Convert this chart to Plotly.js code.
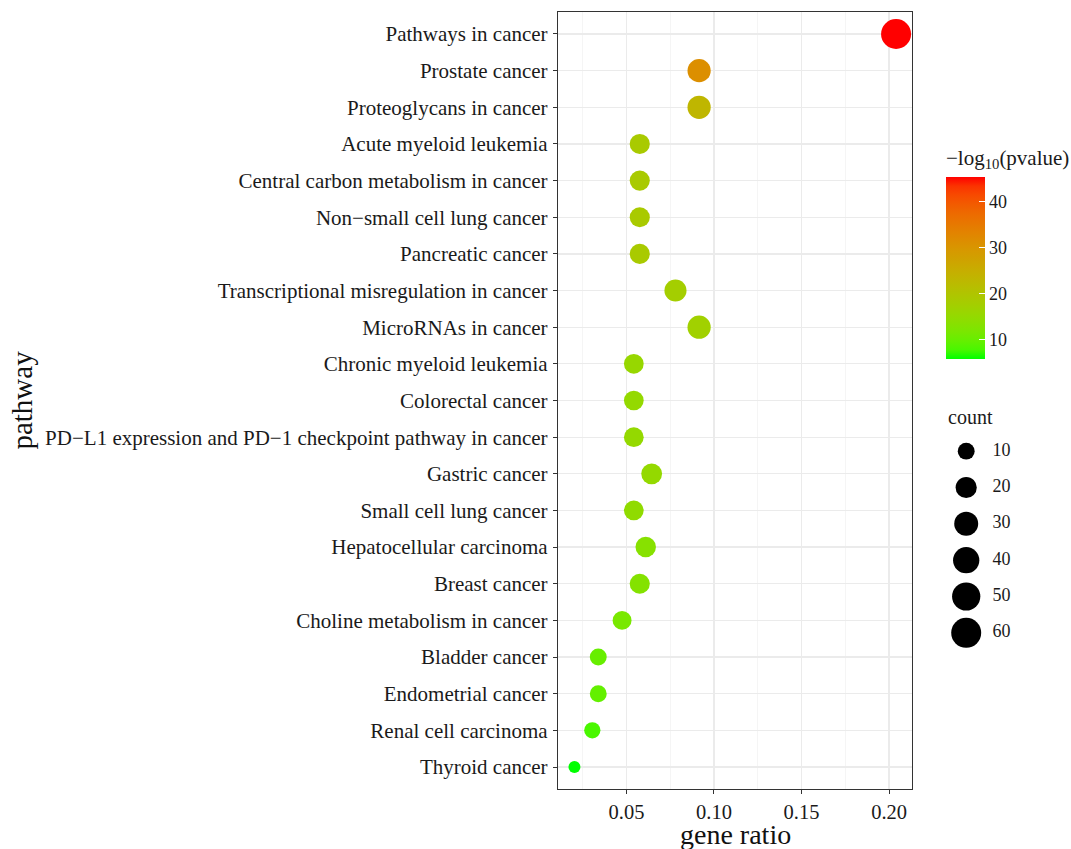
<!DOCTYPE html>
<html>
<head>
<meta charset="utf-8">
<script src="https://cdn.plot.ly/plotly-3.0.1.min.js"></script>
<style>
  html, body { margin: 0; padding: 0; background: #ffffff; }
  #chart { width: 1071px; height: 849px; }
</style>
</head>
<body>
<div id="chart"></div>
<script>
// ---- data ----
var pathways = [
  "Pathways in cancer",
  "Prostate cancer",
  "Proteoglycans in cancer",
  "Acute myeloid leukemia",
  "Central carbon metabolism in cancer",
  "Non\u2212small cell lung cancer",
  "Pancreatic cancer",
  "Transcriptional misregulation in cancer",
  "MicroRNAs in cancer",
  "Chronic myeloid leukemia",
  "Colorectal cancer",
  "PD\u2212L1 expression and PD\u22121 checkpoint pathway in cancer",
  "Gastric cancer",
  "Small cell lung cancer",
  "Hepatocellular carcinoma",
  "Breast cancer",
  "Choline metabolism in cancer",
  "Bladder cancer",
  "Endometrial cancer",
  "Renal cell carcinoma",
  "Thyroid cancer"
];
var geneRatio = [0.2040, 0.0915, 0.0915, 0.0576, 0.0576, 0.0576, 0.0576, 0.0780, 0.0915,
                 0.0542, 0.0542, 0.0542, 0.0644, 0.0542, 0.0610, 0.0576, 0.0475,
                 0.0339, 0.0339, 0.0305, 0.0203];
var counts    = [60, 27, 27, 17, 17, 17, 17, 23, 27, 16, 16, 16, 19, 16, 18, 17, 14, 10, 10, 9, 6];
var negLog10P = [45.2, 31, 23, 18.5, 18.5, 18.5, 18.5, 17.5, 17, 15.5, 15, 15, 15, 14.5, 13.2, 12.8, 11.5, 9.8, 9.5, 7.7, 5.7];
var legendCounts = [10, 20, 30, 40, 50, 60];
var xTickVals = [0.05, 0.10, 0.15, 0.20];
var colorTickVals = [10, 20, 30, 40];
var xTitle = "gene ratio";
var yTitle = "pathway";

// ---- styling helpers (not data) ----
var FONT = "Liberation Serif, 'Times New Roman', serif";
var W = 1071, H = 849, TOP = 12, BOTTOM = 60;
function px2x(p) { return p / W; }
function px2y(p) { return 1 - (p - TOP) / (H - TOP - BOTTOM); }

// ggplot-like Lab interpolation from green to red
function srgbToLab(hex) {
  var c = [1, 3, 5].map(function (i) { return parseInt(hex.substr(i, 2), 16) / 255; });
  var l = c.map(function (v) { return v <= 0.04045 ? v / 12.92 : Math.pow((v + 0.055) / 1.055, 2.4); });
  var X = (0.4124 * l[0] + 0.3576 * l[1] + 0.1805 * l[2]) / 0.95047;
  var Y = (0.2126 * l[0] + 0.7152 * l[1] + 0.0722 * l[2]);
  var Z = (0.0193 * l[0] + 0.1192 * l[1] + 0.9505 * l[2]) / 1.08883;
  function f(t) { return t > 0.008856 ? Math.cbrt(t) : 7.787 * t + 16 / 116; }
  return [116 * f(Y) - 16, 500 * (f(X) - f(Y)), 200 * (f(Y) - f(Z))];
}
function labToRgb(lab) {
  var fy = (lab[0] + 16) / 116, fx = fy + lab[1] / 500, fz = fy - lab[2] / 200;
  function fi(t) { return t > 0.206893 ? t * t * t : (t - 16 / 116) / 7.787; }
  var X = fi(fx) * 0.95047, Y = fi(fy), Z = fi(fz) * 1.08883;
  var r = 3.2406 * X - 1.5372 * Y - 0.4986 * Z;
  var g = -0.9689 * X + 1.8758 * Y + 0.0415 * Z;
  var b = 0.0557 * X - 0.2040 * Y + 1.0570 * Z;
  return [r, g, b].map(function (v) {
    v = v <= 0.0031308 ? 12.92 * v : 1.055 * Math.pow(v, 1 / 2.4) - 0.055;
    return Math.round(Math.max(0, Math.min(1, v)) * 255);
  });
}
var lowLab = srgbToLab("#00FF00"), highLab = srgbToLab("#FF0000");
var colorscale = [];
for (var i = 0; i <= 20; i++) {
  var t = i / 20;
  var lab = [0, 1, 2].map(function (k) { return lowLab[k] + (highLab[k] - lowLab[k]) * t; });
  var rgb = labToRgb(lab);
  colorscale.push([t, "rgb(" + rgb.join(",") + ")"]);
}

// size mapping like ggplot's area scale
var cMin = Math.min.apply(null, counts), cMax = Math.max.apply(null, counts);
var dMin = 12, dMax = 30;
function sizeOf(c) { return dMin + (dMax - dMin) * Math.sqrt(Math.max(0, (c - cMin) / (cMax - cMin))); }

var traceMain = {
  type: "scatter",
  mode: "markers",
  x: geneRatio,
  y: pathways,
  xaxis: "x", yaxis: "y",
  showlegend: false,
  marker: {
    size: counts.map(sizeOf),
    sizemode: "diameter",
    color: negLog10P,
    cmin: Math.min.apply(null, negLog10P),
    cmax: Math.max.apply(null, negLog10P),
    colorscale: colorscale,
    opacity: 1,
    line: { width: 0 },
    showscale: true,
    colorbar: {
      x: px2x(946), xanchor: "left",
      y: px2y(359), yanchor: "bottom",
      thickness: 39, thicknessmode: "pixels",
      len: 213, lenmode: "pixels",
      xpad: 0, ypad: 0,
      outlinewidth: 0,
      ticks: "inside", ticklen: 6, tickcolor: "#ffffff", tickwidth: 1.2,
      tickvals: colorTickVals,
      tickfont: { family: FONT, size: 18, color: "#1a1a1a" },
      title: { text: "\u2212log<sub>10</sub>(pvalue)", side: "top",
               font: { family: FONT, size: 21, color: "#1a1a1a" } }
    }
  }
};

var legendIdx = legendCounts.map(function (c, i) { return i; });
var traceSizeLegend = {
  type: "scatter", mode: "markers",
  x: legendCounts.map(function () { return 0.2; }),
  y: legendIdx,
  xaxis: "x2", yaxis: "y2",
  showlegend: false, hoverinfo: "skip",
  marker: { size: legendCounts.map(sizeOf), color: "#000000", opacity: 1, line: { width: 0 } }
};
var traceSizeLabels = {
  type: "scatter", mode: "text",
  x: legendCounts.map(function () { return 0.40; }),
  y: legendIdx,
  text: legendCounts.map(String),
  textposition: "middle right",
  textfont: { family: FONT, size: 18, color: "#1a1a1a" },
  xaxis: "x2", yaxis: "y2",
  showlegend: false, hoverinfo: "skip"
};

var layout = {
  width: W, height: H,
  margin: { l: 0, r: 0, t: TOP, b: BOTTOM },
  paper_bgcolor: "#ffffff",
  plot_bgcolor: "#ffffff",
  font: { family: FONT, color: "#1a1a1a" },
  xaxis: {
    domain: [px2x(558), px2x(912)],
    range: [0.0109, 0.2131],
    tickvals: xTickVals,
    tickformat: ".2f",
    ticks: "outside", ticklen: 4, tickcolor: "#333333",
    tickfont: { family: FONT, size: 20.5, color: "#1a1a1a" },
    showgrid: true, gridcolor: "#EBEBEB", gridwidth: 1.2,
    minor: { dtick: 0.025, tick0: 0, showgrid: true, gridcolor: "#F2F2F2", gridwidth: 0.8 },
    showline: true, mirror: true, linecolor: "#333333", linewidth: 1.2,
    zeroline: false,
    automargin: false
  },
  yaxis: {
    type: "category",
    categoryorder: "array",
    categoryarray: pathways,
    range: [pathways.length - 0.4, -0.6],
    ticks: "outside", ticklen: 4, tickcolor: "#333333",
    ticklabelstandoff: 1,
    tickfont: { family: FONT, size: 21, color: "#1a1a1a" },
    showgrid: true, gridcolor: "#EBEBEB", gridwidth: 1.2,
    showline: true, mirror: true, linecolor: "#333333", linewidth: 1.2,
    zeroline: false,
    automargin: false,
    title: { text: yTitle, font: { family: FONT, size: 29, color: "#111111" }, standoff: 4 }
  },
  xaxis2: {
    domain: [px2x(940), 1], anchor: "y2", range: [0, 1],
    visible: false, fixedrange: true
  },
  yaxis2: {
    domain: [px2y(651), px2y(433)], anchor: "x2", range: [5.5, -0.5],
    visible: false, fixedrange: true
  },
  annotations: [{
    text: "count", xref: "paper", yref: "paper",
    x: px2x(946), y: px2y(417), xanchor: "left", yanchor: "middle",
    showarrow: false, font: { family: FONT, size: 20, color: "#1a1a1a" }
  }, {
    text: xTitle, xref: "paper", yref: "paper",
    x: px2x(735), y: px2y(834.5), xanchor: "center", yanchor: "middle",
    showarrow: false, font: { family: FONT, size: 28, color: "#111111" }
  }]
};

Plotly.newPlot("chart", [traceMain, traceSizeLegend, traceSizeLabels], layout,
  { displayModeBar: false, staticPlot: true });
</script>
</body>
</html>
